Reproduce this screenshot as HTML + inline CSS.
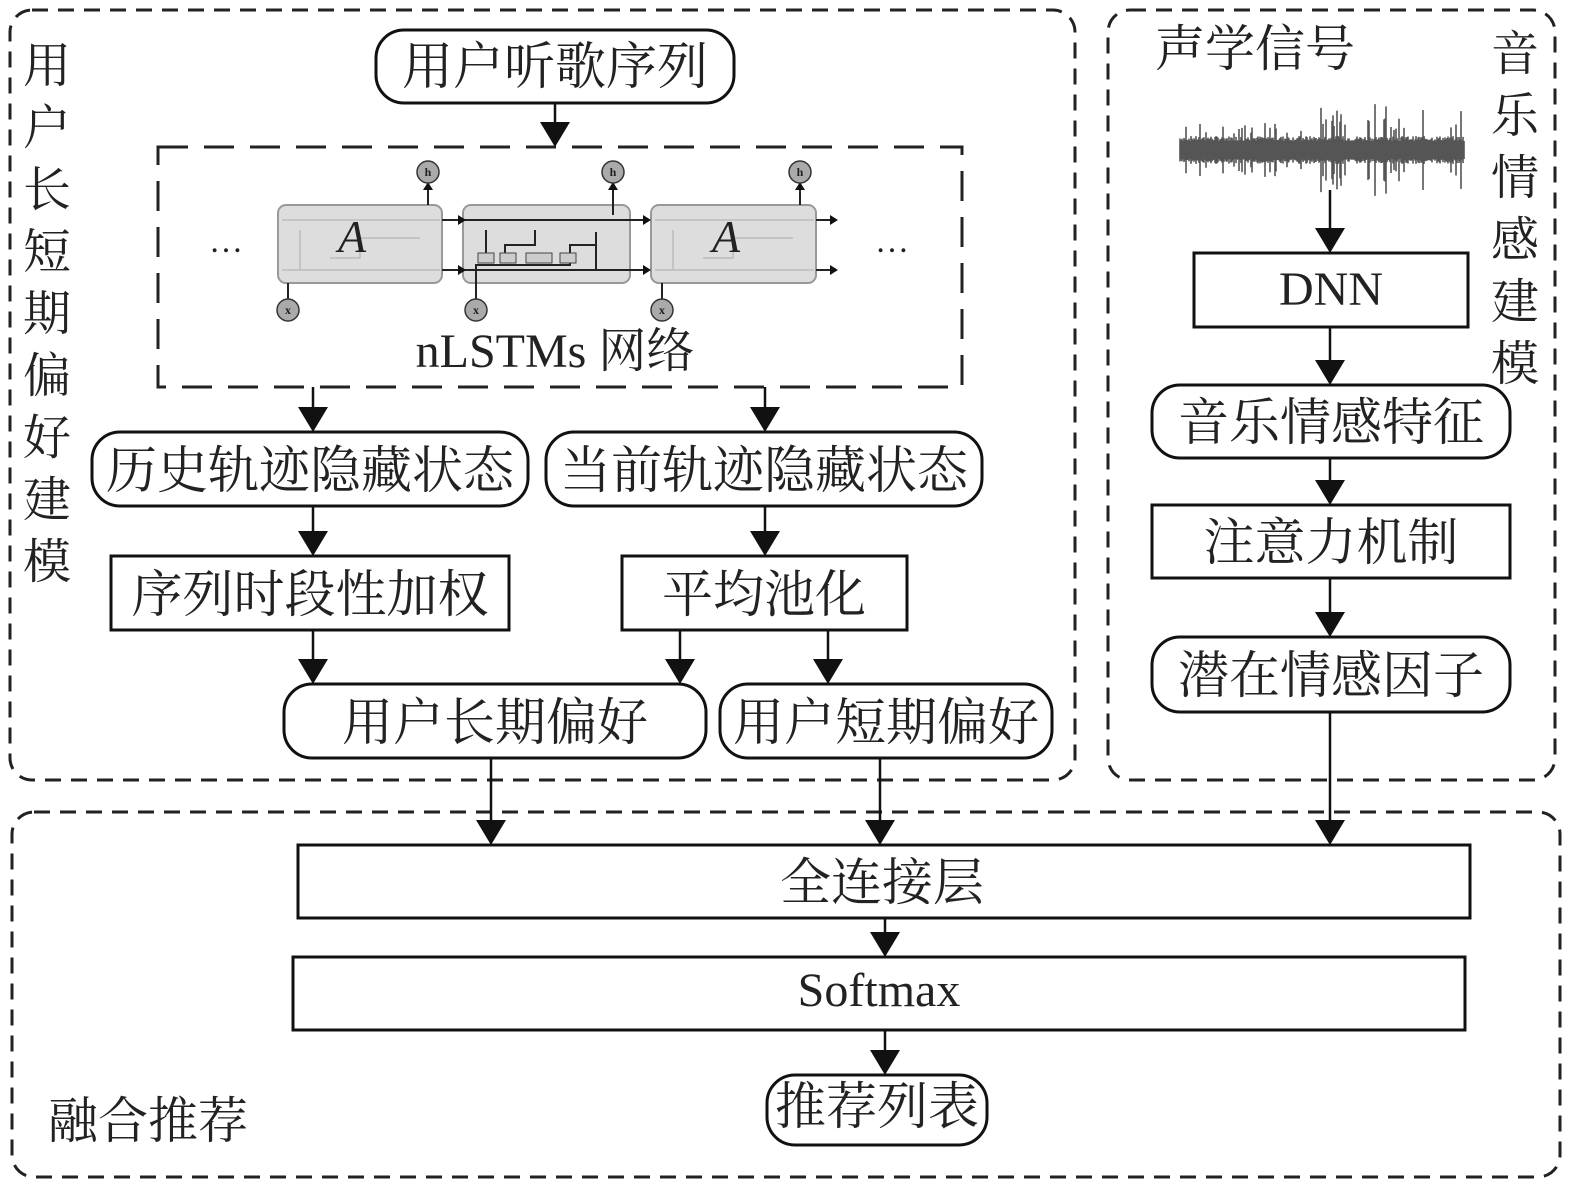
<!DOCTYPE html>
<html><head><meta charset="utf-8"><style>
html,body{margin:0;padding:0;background:#fff;overflow:hidden;}
svg{display:block;}
text{font-family:"Liberation Serif","Noto Serif CJK SC",serif;fill:#222;}
</style></head><body>
<svg width="1575" height="1190" viewBox="0 0 1575 1190" xmlns="http://www.w3.org/2000/svg">
<g fill="none" stroke="#222" stroke-width="3" stroke-dasharray="16,10">
<rect x="10" y="10" width="1065" height="770" rx="22"/>
<rect x="1108" y="10" width="447" height="770" rx="22"/>
<rect x="12" y="812" width="1548" height="365" rx="22"/>
<rect x="158" y="147" width="804" height="240" stroke-dasharray="30,16"/>
</g>
<g fill="#fff" stroke="#111" stroke-width="3">
<rect x="376" y="30" width="358" height="73" rx="28"/>
<rect x="92" y="432" width="436" height="74" rx="28"/>
<rect x="546" y="432" width="436" height="74" rx="28"/>
<rect x="111" y="556" width="398" height="74"/>
<rect x="622" y="556" width="285" height="74"/>
<rect x="284" y="684" width="422" height="74" rx="28"/>
<rect x="720" y="684" width="332" height="74" rx="28"/>
<rect x="298" y="845" width="1172" height="73"/>
<rect x="293" y="957" width="1172" height="73"/>
<rect x="767" y="1075" width="220" height="70" rx="28"/>
<rect x="1194" y="253" width="274" height="74"/>
<rect x="1152" y="385" width="358" height="73" rx="28"/>
<rect x="1152" y="505" width="358" height="73"/>
<rect x="1152" y="637" width="358" height="75" rx="28"/>
</g>
<g stroke="#999" stroke-width="2">
<rect x="278" y="205" width="164" height="78" rx="8" fill="#ddd"/>
<rect x="463" y="205" width="167" height="78" rx="8" fill="#ddd"/>
<rect x="651" y="205" width="165" height="78" rx="8" fill="#ddd"/>
</g>
<g stroke="#bbb" stroke-width="1.5" fill="none">
<path d="M282 220H440M282 270H440M300 270V230M330 258h30v-20h60"/>
<path d="M655 220H814M655 270H814M673 270V230M703 258h30v-20h60"/>
</g>
<g stroke="#222" stroke-width="2" fill="none">
<path d="M442 220H460M442 270H460M463 220H645M463 270H645M816 220H832M816 270H832"/>
<path d="M428 205V185M613 205V185M800 205V185"/>
<path d="M288 283V300M476 283V300M662 283V300"/>
<path d="M476 283V265H570V258M486 262V230M505 258V245h30v-15M570 258V245h25M596 232V270h15M613 215V190"/>
</g>
<g fill="#111">
<path d="M458 215l8 5-8 5zM458 265l8 5-8 5zM643 215l8 5-8 5zM643 265l8 5-8 5zM830 215l8 5-8 5zM830 265l8 5-8 5z"/>
<path d="M423 190l5-8 5 8zM608 190l5-8 5 8zM795 190l5-8 5 8z"/>
</g>
<g fill="#ccc" stroke="#444" stroke-width="1">
<rect x="478" y="253" width="16" height="10"/><rect x="500" y="253" width="16" height="10"/><rect x="526" y="253" width="26" height="10"/><rect x="560" y="253" width="16" height="10"/>
</g>
<g fill="#aaa" stroke="#333" stroke-width="1.5">
<circle cx="428" cy="172" r="11"/><circle cx="613" cy="172" r="11"/><circle cx="800" cy="172" r="11"/>
<circle cx="288" cy="310" r="11"/><circle cx="476" cy="310" r="11"/><circle cx="662" cy="310" r="11"/>
</g>
<g font-size="12" text-anchor="middle" font-weight="bold"><text x="428" y="176">h</text><text x="613" y="176">h</text><text x="800" y="176">h</text><text x="288" y="314">x</text><text x="476" y="314">x</text><text x="662" y="314">x</text></g>
<text x="352" y="252" font-size="46" font-style="italic" text-anchor="middle">A</text>
<text x="726" y="252" font-size="46" font-style="italic" text-anchor="middle">A</text>
<text x="226" y="252" font-size="34" text-anchor="middle">…</text>
<text x="892" y="252" font-size="34" text-anchor="middle">…</text>
<path id="wave" fill="none" stroke="#555" stroke-width="1.6" d=""/>
<g fill="#111" id="arrows"></g>
<g stroke="#111" stroke-width="2.5" id="lines"></g>
<g font-size="51" text-anchor="middle">
<text x="555" y="84">用户听歌序列</text>
<text x="555" y="367" font-size="48">nLSTMs 网络</text>
<text x="310" y="488">历史轨迹隐藏状态</text>
<text x="764" y="488">当前轨迹隐藏状态</text>
<text x="310" y="612">序列时段性加权</text>
<text x="764" y="612">平均池化</text>
<text x="495" y="740">用户长期偏好</text>
<text x="886" y="740">用户短期偏好</text>
<text x="882" y="900">全连接层</text>
<text x="879" y="1006" font-size="48">Softmax</text>
<text x="877" y="1124">推荐列表</text>
<text x="1331" y="305" font-size="48">DNN</text>
<text x="1331" y="440">音乐情感特征</text>
<text x="1331" y="560">注意力机制</text>
<text x="1331" y="693">潜在情感因子</text>
</g>
<text x="1155" y="66" font-size="50">声学信号</text>
<text x="48" y="1138" font-size="50">融合推荐</text>
<g font-size="48" text-anchor="middle">
<text x="47" y="82">用</text><text x="47" y="144">户</text><text x="47" y="206">长</text><text x="47" y="268">短</text><text x="47" y="330">期</text><text x="47" y="392">偏</text><text x="47" y="454">好</text><text x="47" y="516">建</text><text x="47" y="578">模</text>
<text x="1515" y="70">音</text><text x="1515" y="132">乐</text><text x="1515" y="194">情</text><text x="1515" y="256">感</text><text x="1515" y="318">建</text><text x="1515" y="380">模</text>
</g>
<script>
(function(){
var A=[[555,103,147],[313,387,432],[765,387,432],[313,506,556],[765,506,556],[313,630,684],[680,630,684],[828,630,684],[491,758,845],[880,758,845],[1330,712,845],[885,918,957],[885,1030,1075],[1330,190,253],[1330,327,385],[1330,458,505],[1330,578,637]];
var ns="http://www.w3.org/2000/svg",L=document.getElementById('lines'),P=document.getElementById('arrows');
A.forEach(function(a){var l=document.createElementNS(ns,'line');l.setAttribute('x1',a[0]);l.setAttribute('x2',a[0]);l.setAttribute('y1',a[1]);l.setAttribute('y2',a[2]-20);L.appendChild(l);
var p=document.createElementNS(ns,'path');p.setAttribute('d','M'+(a[0]-15)+' '+(a[2]-25)+'L'+(a[0]+15)+' '+(a[2]-25)+'L'+a[0]+' '+a[2]+'z');P.appendChild(p);});
var d='',s=7;function r(){s=(s*9301+49297)%233280;return s/233280;}
for(var x=1180;x<=1464;x+=1){var t=(x-1180)/284;var amp=9+5*r();if(r()<0.1)amp+=6+(t>0.45?28:10)*r();d+='M'+x+' '+(150-amp)+'V'+(150+amp);}
document.getElementById('wave').setAttribute('d',d);
})();
</script>
</svg>
</body></html>
